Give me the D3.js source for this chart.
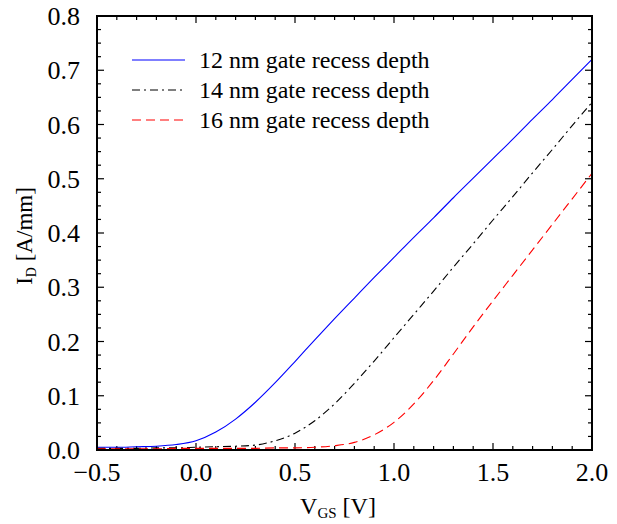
<!DOCTYPE html>
<html>
<head>
<meta charset="utf-8">
<script src="https://cdn.jsdelivr.net/npm/d3@7"></script>
<style>
  body { margin: 0; background: #fff; }
  svg { display: block; font-family: "Liberation Serif", "DejaVu Serif", serif; }
</style>
</head>
<body>
<div id="chart"></div>
<script>
/*****************************************************
 * I_D - V_GS transfer curves, three gate recess depths
 *****************************************************/
// gate voltage (V), step 0.1
const vgs = [-0.5, -0.4, -0.3, -0.2, -0.1, 0.0, 0.1, 0.2, 0.3, 0.4, 0.5,
             0.6, 0.7, 0.8, 0.9, 1.0, 1.1, 1.2, 1.3, 1.4, 1.5,
             1.6, 1.7, 1.8, 1.9, 2.0];
// drain current (A/mm)
const id12 = [0.005, 0.005, 0.006, 0.007, 0.010, 0.017, 0.033, 0.057, 0.088, 0.124, 0.163,
              0.203, 0.242, 0.280, 0.318, 0.355, 0.392, 0.428, 0.465, 0.501, 0.537,
              0.573, 0.610, 0.646, 0.683, 0.720];
const id14 = [0.003, 0.003, 0.003, 0.004, 0.004, 0.005, 0.006, 0.007, 0.009, 0.017, 0.031,
              0.054, 0.085, 0.123, 0.164, 0.207, 0.250, 0.293, 0.337, 0.380, 0.424,
              0.467, 0.511, 0.554, 0.598, 0.641];
const id16 = [0.002, 0.002, 0.002, 0.002, 0.003, 0.003, 0.003, 0.003, 0.003, 0.004, 0.004,
              0.005, 0.008, 0.014, 0.028, 0.051, 0.085, 0.128, 0.177, 0.227, 0.275,
              0.322, 0.369, 0.416, 0.463, 0.510];
const seriesNames = ["12 nm gate recess depth", "14 nm gate recess depth", "16 nm gate recess depth"];
const xTicks = [-0.5, 0.0, 0.5, 1.0, 1.5, 2.0];
const yTicks = [0.0, 0.1, 0.2, 0.3, 0.4, 0.5, 0.6, 0.7, 0.8];

const width = 617, height = 524;
const margin = { top: 16, right: 25, bottom: 74, left: 97 };
const iw = width - margin.left - margin.right;
const ih = height - margin.top - margin.bottom;

const svg = d3.select("#chart").append("svg")
  .attr("width", width)
  .attr("height", height);

const x = d3.scaleLinear().domain([-0.5, 2.0]).range([margin.left, margin.left + iw]);
const y = d3.scaleLinear().domain([0, 0.8]).range([margin.top + ih, margin.top]);

// ticks: major + minor, inward, on all four sides
const xMinor = d3.range(-5, 21).map(i => i / 10);
const yMinor = d3.range(0, 33).map(i => i * 0.025);
const g = svg.append("g").attr("stroke", "#000").attr("stroke-width", 1.2);
xMinor.forEach(v => {
  const major = xTicks.some(t => Math.abs(t - v) < 1e-6);
  const len = major ? 7 : 4;
  g.append("line").attr("x1", x(v)).attr("x2", x(v))
    .attr("y1", y(0)).attr("y2", y(0) - len);
  g.append("line").attr("x1", x(v)).attr("x2", x(v))
    .attr("y1", y(0.8)).attr("y2", y(0.8) + len);
});
yMinor.forEach(v => {
  const major = yTicks.some(t => Math.abs(t - v) < 1e-6);
  const len = major ? 7 : 4;
  g.append("line").attr("y1", y(v)).attr("y2", y(v))
    .attr("x1", x(-0.5)).attr("x2", x(-0.5) + len);
  g.append("line").attr("y1", y(v)).attr("y2", y(v))
    .attr("x1", x(2.0)).attr("x2", x(2.0) - len);
});

// tick labels
svg.append("g").selectAll("text").data(xTicks).enter().append("text")
  .attr("x", d => x(d)).attr("y", y(0) + 31)
  .attr("text-anchor", "middle").attr("font-size", 26)
  .text(d => d3.format(".1f")(d).replace("-", "\u2212"));
svg.append("g").selectAll("text").data(yTicks).enter().append("text")
  .attr("x", x(-0.5) - 17).attr("y", d => y(d) + 9)
  .attr("text-anchor", "end").attr("font-size", 26)
  .text(d => d3.format(".1f")(d));

// curves
const curves = [
  { vals: id12, color: "#0000ff", dash: null },
  { vals: id14, color: "#000000", dash: "8,4,2,4" },
  { vals: id16, color: "#ff0000", dash: "9,5" }
];
const line = d3.line()
  .x((d, i) => x(vgs[i]))
  .y(d => y(d))
  .curve(d3.curveMonotoneX);
curves.forEach(c => {
  svg.append("path")
    .attr("d", line(c.vals))
    .attr("fill", "none")
    .attr("stroke", c.color)
    .attr("stroke-width", 1.1)
    .attr("stroke-dasharray", c.dash);
});

// frame
svg.append("rect")
  .attr("x", x(-0.5)).attr("y", y(0.8))
  .attr("width", iw).attr("height", ih)
  .attr("fill", "none").attr("stroke", "#000").attr("stroke-width", 2);

// legend
const leg = svg.append("g");
curves.forEach((c, i) => {
  const ly = 60 + i * 30;
  leg.append("line")
    .attr("x1", 132).attr("x2", 185).attr("y1", ly).attr("y2", ly)
    .attr("stroke", c.color).attr("stroke-width", 1.1)
    .attr("stroke-dasharray", c.dash);
  leg.append("text")
    .attr("x", 199).attr("y", ly + 8)
    .attr("font-size", 24)
    .text(seriesNames[i]);
});

// axis titles
const xt = svg.append("text")
  .attr("x", 338).attr("y", 514)
  .attr("text-anchor", "middle").attr("font-size", 24);
xt.append("tspan").text("V");
xt.append("tspan").attr("font-size", 15).attr("dy", 4).text("GS");
xt.append("tspan").attr("dy", -4).text(" [V]");

const yt = svg.append("text")
  .attr("transform", "translate(32,236) rotate(-90)")
  .attr("text-anchor", "middle").attr("font-size", 23);
yt.append("tspan").text("I");
yt.append("tspan").attr("font-size", 14).attr("dy", 4).text("D");
yt.append("tspan").attr("dy", -4).text(" [A/mm]");
</script>
</body>
</html>
